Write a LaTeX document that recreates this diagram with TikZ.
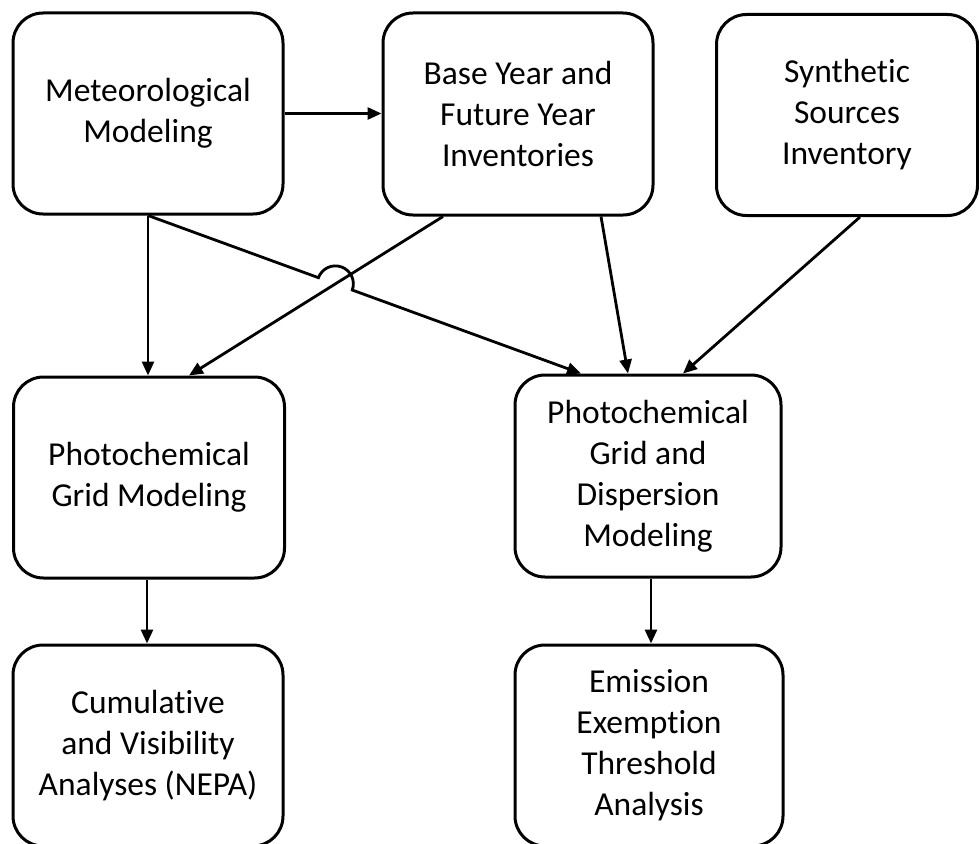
\documentclass[tikz,border=0pt]{standalone}
\usepackage{fontspec}
\setmainfont{Carlito}[Ligatures=NoCommon]
\usetikzlibrary{arrows.meta,calc,intersections}
\begin{document}
\begin{tikzpicture}[x=1pt,y=1pt,
  box/.style={draw, line width=3pt, rounded corners=30pt, align=center,
    font=\fontsize{33.5}{41}\selectfont, inner sep=0pt, fill=white},
  arr/.style={line width=2.8pt, -{Triangle[length=14pt,width=12pt]}}]
\useasboundingbox (0,0) rectangle (979,-843);
% boxes
\node[box, minimum width=270pt, minimum height=201pt] (meteo) at (148,-113.5) {Meteorological\\Modeling};
\node[box, minimum width=270pt, minimum height=202pt] (base) at (518,-114) {Base Year and\\Future Year\\Inventories};
\node[box, minimum width=261pt, minimum height=201pt] (synth) at (847,-115) {Synthetic\\Sources\\Inventory};
\node[box, minimum width=271pt, minimum height=201pt] (pgm) at (149,-477.5) {Photochemical\\Grid Modeling};
\node[box, minimum width=266pt, minimum height=202pt] (pgdm) at (648,-476) {Photochemical\\Grid and\\Dispersion\\Modeling};
\node[box, minimum width=270pt, minimum height=201pt] (cum) at (148,-745.5) {Cumulative\\and Visibility\\Analyses (NEPA)};
\node[box, minimum width=268pt, minimum height=201pt] (emis) at (649,-745.5) {Emission\\Exemption\\Threshold\\Analysis};
% connector end points
\coordinate (m2pIn) at ($(pgdm.north)+(-67,0)$);
\coordinate (b2mOut) at ($(base.south)+(-75,0)$);
\coordinate (b2mIn) at ($(pgm.north)+(40,0)$);
\coordinate (b2pOut) at ($(base.south)+(83,0)$);
\coordinate (b2pIn) at ($(pgdm.north)+(-20,0)$);
\coordinate (s2pOut) at ($(synth.south)+(13,0)$);
\coordinate (s2pIn) at ($(pgdm.north)+(35,0)$);
% connectors
\draw[arr] (meteo.east) -- (meteo.east -| base.west);
\draw[arr] (meteo.south) -- (meteo.south |- pgm.north);
\draw[arr] (b2mOut) -- (b2mIn);
\draw[arr] (b2pOut) -- (b2pIn);
\draw[arr] (s2pOut) -- (s2pIn);
\draw[arr] ($(pgm.south)+(-2,0)$) -- ($(pgm.south |- cum.north)+(-2,0)$);
\draw[arr] ($(pgdm.south)+(3,0)$) -- ($(pgdm.south |- emis.north)+(3,0)$);
% line jump over the crossing
\path[name path=lineA] (meteo.south) -- (m2pIn);
\path[name path=lineB] (b2mOut) -- (b2mIn);
\path[name intersections={of=lineA and lineB, by=X}];
\draw[arr] let \p1=(meteo.south), \p2=(m2pIn), \n1={atan2(\y2-\y1,\x2-\x1)} in
  (meteo.south) -- ($(X)!18pt!(meteo.south)$)
  arc[start angle=\n1+180, end angle=\n1, radius=18pt] -- (m2pIn);
\end{tikzpicture}
\end{document}
